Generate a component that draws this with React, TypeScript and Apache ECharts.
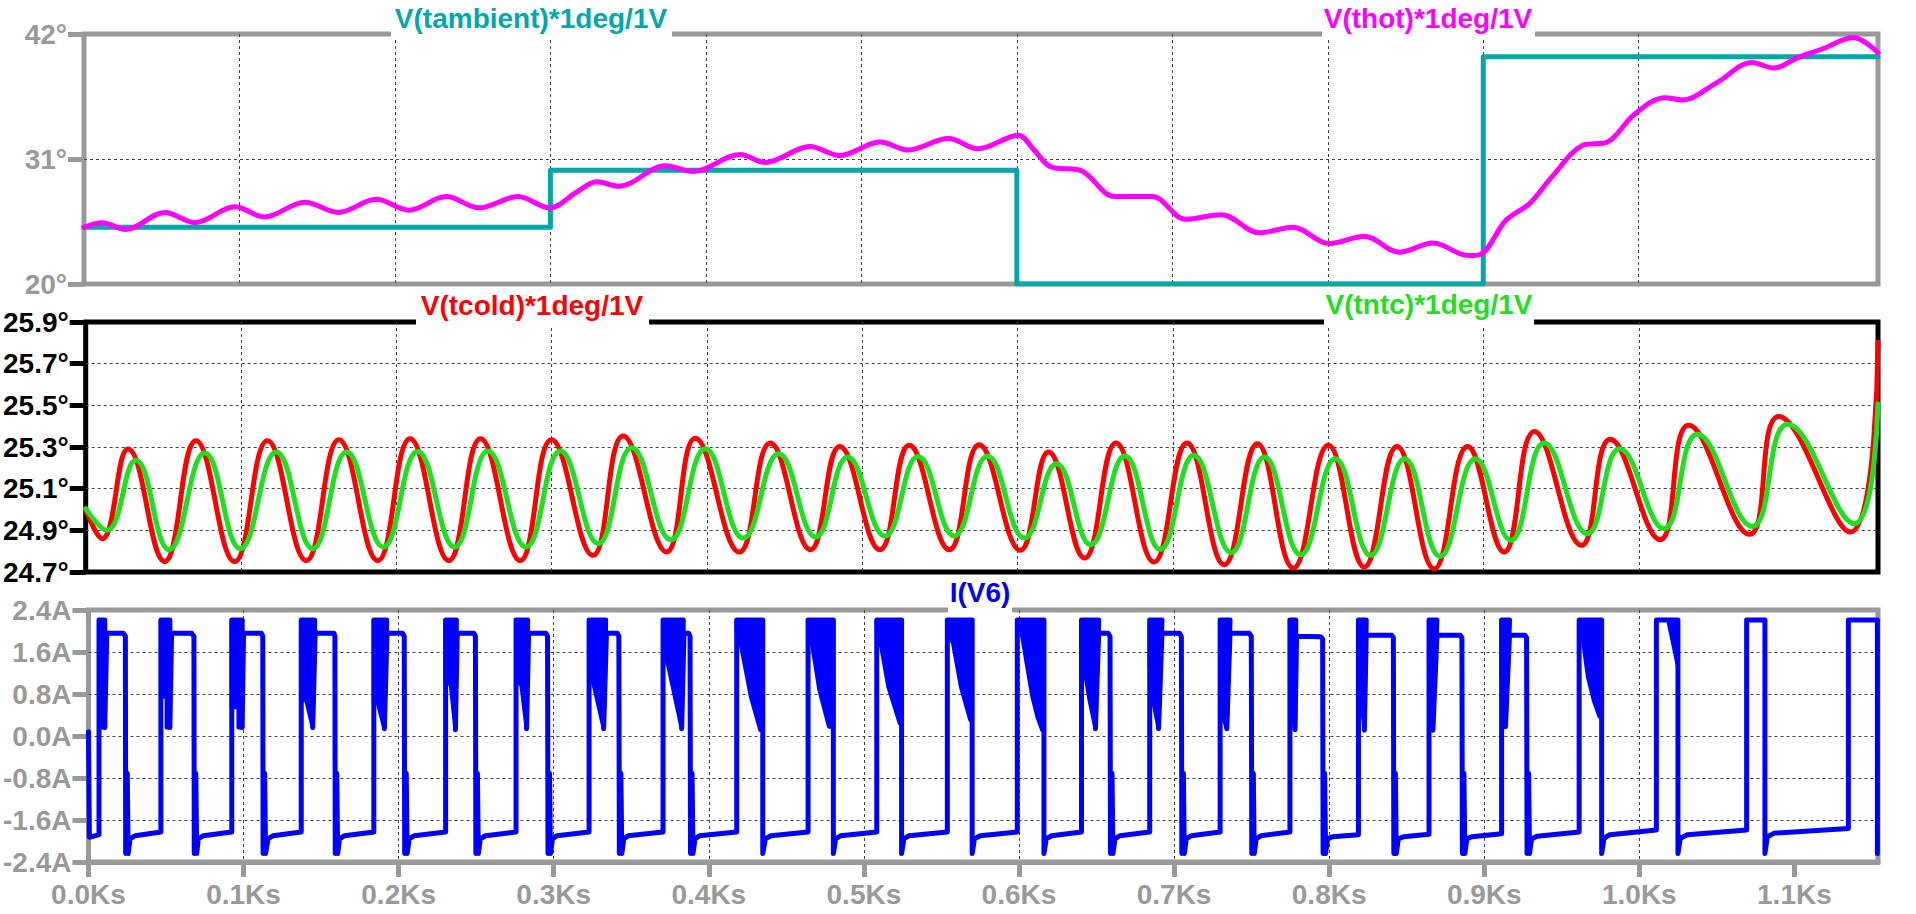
import React, { useEffect, useRef } from 'react';
import * as echarts from 'echarts';

// ---- axis ticks ----
const timeTicks = [0, 0.1, 0.2, 0.3, 0.4, 0.5, 0.6, 0.7, 0.8, 0.9, 1.0, 1.1];
const timeMax = 1.1539;
const hotTicks = [20, 31, 42];
const coldTicks = [24.7, 24.9, 25.1, 25.3, 25.5, 25.7, 25.9];
const currentTicks = [-2.4, -1.6, -0.8, 0, 0.8, 1.6, 2.4];

// ---- panel 1: V(tambient), V(thot)  [Ks, deg] ----
const tAmbient = [[0, 25], [0.3, 25], [0.3, 30], [0.6, 30], [0.6, 20], [0.9, 20], [0.9, 40], [1.1539, 40]];
const tHot = [
  [0, 25.0], [0.0115, 25.4], [0.027, 24.8], [0.052, 26.3], [0.0715, 25.4], [0.097, 26.8], [0.116, 25.9],
  [0.142, 27.2], [0.1635, 26.3], [0.188, 27.45], [0.209, 26.5], [0.233, 27.7], [0.254, 26.7], [0.279, 27.7],
  [0.2995, 26.7], [0.317, 28.1], [0.3297, 29.0], [0.344, 28.6], [0.374, 30.4], [0.392, 29.9], [0.422, 31.4],
  [0.438, 30.7], [0.467, 32.1], [0.486, 31.3], [0.512, 32.5], [0.53, 31.8], [0.556, 32.8], [0.575, 31.9],
  [0.601, 33.1], [0.611, 31.8], [0.622, 30.3], [0.641, 30.0], [0.663, 27.7], [0.687, 27.7], [0.7086, 25.7],
  [0.7315, 26.1], [0.756, 24.5], [0.7775, 25.0], [0.801, 23.55], [0.8235, 24.2], [0.846, 22.8], [0.8677, 23.6],
  [0.8905, 22.5], [0.898, 22.6], [0.9146, 25.6], [0.93, 27.1], [0.944, 29.4], [0.964, 32.2], [0.98, 32.5],
  [0.997, 34.9], [1.017, 36.4], [1.028, 36.2], [1.05, 37.7], [1.073, 39.5], [1.087, 39.0], [1.102, 39.9],
  [1.1185, 40.7], [1.138, 41.7], [1.1539, 40.35],
];

// ---- panel 2: V(tcold), V(tntc) ----
const tCold = [
  [0, 25.0], [0.0106, 24.86], [0.0273, 25.29], [0.0508, 24.75], [0.071, 25.33], [0.0959, 24.75], [0.117, 25.33],
  [0.142, 24.755], [0.163, 25.335], [0.188, 24.755], [0.2088, 25.34], [0.2338, 24.755], [0.2542, 25.34],
  [0.2798, 24.755], [0.2999, 25.335], [0.3265, 24.78], [0.346, 25.353], [0.374, 24.796], [0.3925, 25.342],
  [0.4208, 24.796], [0.4407, 25.319], [0.4666, 24.807], [0.4855, 25.303], [0.5113, 24.807], [0.5302, 25.308],
  [0.556, 24.807], [0.5752, 25.311], [0.6017, 24.804], [0.6199, 25.276], [0.6431, 24.767], [0.6633, 25.319],
  [0.6878, 24.748], [0.709, 25.319], [0.733, 24.735], [0.7543, 25.316], [0.7775, 24.719], [0.8, 25.308],
  [0.8232, 24.724], [0.8442, 25.303], [0.8682, 24.716], [0.8897, 25.303], [0.9132, 24.796], [0.9327, 25.375],
  [0.963, 24.828], [0.9815, 25.337], [1.0136, 24.855], [1.032, 25.404], [1.0712, 24.881], [1.09, 25.447],
  [1.136, 24.892], [1.1539, 25.804],
];
const tNtc = [
  [0, 25.004], [0.0135, 24.9], [0.0322, 25.236], [0.0537, 24.807], [0.0767, 25.271], [0.0996, 24.812],
  [0.1227, 25.276], [0.1462, 24.812], [0.168, 25.276], [0.1916, 24.82], [0.2137, 25.279], [0.2375, 24.82],
  [0.259, 25.281], [0.2835, 24.82], [0.3056, 25.281], [0.33, 24.836], [0.3516, 25.297], [0.3768, 24.855],
  [0.3989, 25.292], [0.4234, 24.863], [0.4462, 25.268], [0.47, 24.868], [0.4906, 25.252], [0.5146, 24.873],
  [0.5359, 25.255], [0.5592, 24.873], [0.5806, 25.257], [0.6044, 24.863], [0.625, 25.22], [0.647, 24.831],
  [0.669, 25.257], [0.6918, 24.809], [0.7134, 25.26], [0.7375, 24.793], [0.7589, 25.252], [0.7822, 24.783],
  [0.8045, 25.244], [0.8272, 24.78], [0.8492, 25.244], [0.872, 24.775], [0.8948, 25.244], [0.9175, 24.852],
  [0.939, 25.319], [0.9668, 24.884], [0.9876, 25.292], [1.0161, 24.908], [1.0376, 25.361], [1.073, 24.919],
  [1.0957, 25.409], [1.1387, 24.932], [1.1539, 25.508],
];

// ---- panel 3: I(V6) [Ks, A] ----
const iV6 = [
  [0, 0.08], [0.0006, -1.93], [0.0068, -1.88],
  [0.0068, 2.21], [0.0105, 2.21], [0.0105, 0.16], [0.0118, 1.955], [0.0225, 1.955], [0.0238, 1.9], [0.024, -2.24], [0.025, -0.71], [0.0256, -2.24], [0.0268, -1.96], [0.03, -1.9], [0.0467, -1.83],
  [0.0467, 2.21], [0.0525, 2.21], [0.0525, 0.16], [0.0536, 1.955], [0.0665, 1.955], [0.068, 1.9], [0.0682, -2.24], [0.0692, -0.71], [0.0698, -2.24], [0.0708, -1.96], [0.074, -1.9], [0.0924, -1.83],
  [0.0924, 2.21], [0.0991, 2.21], [0.0991, 0.16], [0.1, 1.955], [0.1115, 1.955], [0.1124, 1.9], [0.1126, -2.24], [0.1136, -0.71], [0.1142, -2.24], [0.1158, -1.96], [0.119, -1.9], [0.1372, -1.83],
  [0.1372, 2.21], [0.1455, 2.21], [0.1446, 0.16], [0.1462, 2.0], [0.1469, 1.955], [0.1583, 1.955], [0.1589, 1.9], [0.1591, -2.24], [0.1601, -0.71], [0.1607, -2.24], [0.1619, -1.96], [0.165, -1.9], [0.184, -1.83],
  [0.184, 2.21], [0.1923, 2.21], [0.1908, 0.14], [0.1925, 1.955], [0.2025, 1.955], [0.2036, 1.9], [0.2039, -2.24], [0.2049, -0.71], [0.2055, -2.24], [0.2068, -1.96], [0.21, -1.9], [0.2303, -1.83],
  [0.2303, 2.21], [0.2372, 2.21], [0.2366, 0.12], [0.2378, 1.955], [0.2485, 1.955], [0.2495, 1.9], [0.2498, -2.24], [0.2508, -0.71], [0.2514, -2.24], [0.2527, -1.96], [0.256, -1.9], [0.2757, -1.83],
  [0.2757, 2.21], [0.2832, 2.21], [0.2825, 0.14], [0.2838, 1.955], [0.295, 1.955], [0.296, 1.9], [0.2963, -2.24], [0.2973, -0.71], [0.2979, -2.24], [0.2992, -1.96], [0.302, -1.9], [0.3228, -1.83],
  [0.3228, 2.21], [0.3335, 2.21], [0.3322, 0.14], [0.334, 1.955], [0.341, 1.955], [0.342, 1.9], [0.3423, -2.24], [0.3433, -0.71], [0.3439, -2.24], [0.3452, -1.96], [0.348, -1.9], [0.3705, -1.83],
  [0.3705, 2.21], [0.3835, 2.21], [0.3825, 0.14], [0.384, 1.955], [0.387, 1.955], [0.3879, 1.9], [0.3882, -2.24], [0.3892, -0.71], [0.3898, -2.24], [0.3911, -1.96], [0.394, -1.9], [0.418, -1.83],
  [0.418, 2.21], [0.4348, 2.21], [0.4348, -2.24], [0.4365, -1.96], [0.44, -1.9], [0.464, -1.83],
  [0.464, 2.21], [0.4803, 2.21], [0.4803, -2.24], [0.4818, -1.96], [0.485, -1.9], [0.5083, -1.83],
  [0.5083, 2.21], [0.5243, 2.21], [0.5243, -2.24], [0.5258, -1.96], [0.529, -1.9], [0.5538, -1.83],
  [0.5538, 2.21], [0.5698, 2.21], [0.5698, -2.24], [0.5713, -1.96], [0.575, -1.9], [0.5989, -1.83],
  [0.5989, 2.21], [0.6161, 2.21], [0.6161, -2.24], [0.6176, -1.96], [0.621, -1.9], [0.6403, -1.83],
  [0.6403, 2.21], [0.6514, 2.21], [0.6493, 0.14], [0.6514, 1.955], [0.6575, 1.955], [0.6587, 1.9], [0.659, -2.24], [0.66, -0.71], [0.6606, -2.24], [0.6619, -1.96], [0.665, -1.9], [0.6843, -1.83],
  [0.6843, 2.21], [0.6922, 2.21], [0.69, 0.14], [0.6922, 1.955], [0.7035, 1.955], [0.7047, 1.9], [0.705, -2.24], [0.706, -0.71], [0.7066, -2.24], [0.7079, -1.96], [0.711, -1.9], [0.7297, -1.83],
  [0.7297, 2.21], [0.7361, 2.21], [0.734, 0.14], [0.7361, 1.955], [0.7485, 1.955], [0.7498, 1.9], [0.7501, -2.24], [0.7511, -0.71], [0.7517, -2.24], [0.753, -1.96], [0.756, -1.9], [0.7747, -1.83],
  [0.7747, 2.21], [0.7785, 2.21], [0.778, 0.12], [0.779, 1.9], [0.7945, 1.89], [0.7958, 1.85], [0.7961, -2.24], [0.7971, -0.71], [0.7977, -2.24], [0.799, -1.96], [0.802, -1.92], [0.8189, -1.88],
  [0.8189, 2.21], [0.8239, 2.21], [0.8227, 0.11], [0.8239, 1.92], [0.8404, 1.92], [0.8414, 1.87], [0.8417, -2.24], [0.8427, -0.71], [0.8433, -2.24], [0.8446, -1.96], [0.848, -1.92], [0.8644, -1.87],
  [0.8644, 2.21], [0.8695, 2.21], [0.8669, 0.11], [0.8695, 1.92], [0.8846, 1.92], [0.8856, 1.87], [0.8859, -2.24], [0.8869, -0.71], [0.8875, -2.24], [0.8888, -1.96], [0.892, -1.92], [0.9112, -1.86],
  [0.9112, 2.21], [0.9163, 2.21], [0.9137, 0.18], [0.9163, 1.92], [0.9263, 1.92], [0.9273, 1.87], [0.9276, -2.24], [0.9286, -0.71], [0.9292, -2.24], [0.9305, -1.96], [0.934, -1.91], [0.9612, -1.83],
  [0.9612, 2.21], [0.9757, 2.21], [0.9757, -2.24], [0.9772, -1.95], [0.981, -1.88], [1.011, -1.79],
  [1.011, 2.21], [1.0249, 2.21], [1.0249, -2.24], [1.0264, -1.95], [1.031, -1.88], [1.0692, -1.79],
  [1.0692, 2.21], [1.081, 2.21], [1.081, -2.24], [1.0825, -1.92], [1.087, -1.85], [1.1348, -1.76],
  [1.1348, 2.21], [1.1535, 2.21], [1.1535, -2.24],
];
// dense switching bursts of I(V6): outline of each filled region
const iV6Bursts = [
  [[0.0068, 2.21], [0.0105, 2.21], [0.0105, 0.16], [0.0078, 0.16], [0.0068, 1.0]],
  [[0.0467, 2.21], [0.0525, 2.21], [0.0525, 0.16], [0.0504, 0.16], [0.0504, 0.75], [0.0467, 0.75]],
  [[0.0924, 2.21], [0.0991, 2.21], [0.0991, 0.16], [0.0967, 0.16], [0.0967, 0.55], [0.0924, 0.55]],
  [[0.1372, 2.21], [0.1462, 2.21], [0.1446, 0.16], [0.1404, 0.68], [0.1372, 0.68]],
  [[0.184, 2.21], [0.1923, 2.21], [0.1908, 0.14], [0.1866, 0.62], [0.184, 0.62]],
  [[0.2303, 2.21], [0.2372, 2.21], [0.2366, 0.12], [0.2335, 1.0], [0.2303, 1.0]],
  [[0.2757, 2.21], [0.2832, 2.21], [0.2825, 0.14], [0.279, 1.0], [0.2757, 1.0]],
  [[0.3228, 2.21], [0.3335, 2.21], [0.3322, 0.14], [0.325, 1.07], [0.3228, 1.2]],
  [[0.3705, 2.21], [0.3835, 2.21], [0.3825, 0.14], [0.3735, 1.38], [0.3705, 1.6]],
  [[0.418, 2.21], [0.4348, 2.21], [0.4348, 0.11], [0.4332, 0.11], [0.4271, 0.75], [0.4209, 1.7], [0.418, 2.0]],
  [[0.464, 2.21], [0.4803, 2.21], [0.4803, 0.175], [0.4775, 0.175], [0.4713, 0.87], [0.4665, 1.76], [0.464, 2.0]],
  [[0.5083, 2.21], [0.5243, 2.21], [0.5243, 0.24], [0.5231, 0.24], [0.5157, 0.94], [0.5108, 1.76], [0.5083, 2.0]],
  [[0.5538, 2.21], [0.5698, 2.21], [0.5698, 0.3], [0.5686, 0.3], [0.5625, 0.94], [0.5575, 1.76], [0.5538, 2.0]],
  [[0.5989, 2.21], [0.6161, 2.21], [0.6161, 0.11], [0.615, 0.11], [0.6118, 0.37], [0.6086, 0.75], [0.6053, 1.32], [0.601, 2.08]],
  [[0.6403, 2.21], [0.6514, 2.21], [0.6493, 0.14], [0.6455, 0.68], [0.6418, 1.32], [0.6403, 1.6]],
  [[0.6843, 2.21], [0.6922, 2.21], [0.69, 0.14], [0.6868, 0.62], [0.6855, 1.32], [0.6843, 1.32]],
  [[0.7297, 2.21], [0.7361, 2.21], [0.734, 0.14], [0.7308, 0.43], [0.7297, 0.8]],
  [[0.7747, 2.21], [0.7785, 2.21], [0.778, 0.12], [0.7758, 0.6], [0.7747, 1.0]],
  [[0.8189, 2.21], [0.8239, 2.21], [0.8227, 0.11], [0.8205, 0.8], [0.8189, 1.2]],
  [[0.8644, 2.21], [0.8695, 2.21], [0.8669, 0.11], [0.8655, 0.8], [0.8644, 1.2]],
  [[0.9112, 2.21], [0.9163, 2.21], [0.9137, 0.18], [0.9122, 0.8], [0.9112, 1.2]],
  [[0.9612, 2.21], [0.9757, 2.21], [0.9757, 0.37], [0.9743, 0.37], [0.9706, 0.68], [0.9668, 1.13], [0.9642, 1.7], [0.9625, 2.1]],
  [[1.0186, 2.21], [1.0249, 2.21], [1.0249, 1.32]],
];

const GRAY = '#999999';
const GRID_LINE = '#444444';
const FONT = '"Liberation Sans", Arial, sans-serif';
const C_AMB = '#00A8A8';
const C_HOT = '#FF00FF';
const C_COLD = '#FF0000';
const C_NTC = '#1FE01F';
const C_I = '#0000FF';

const labelStyle = (color: string) => ({ color, fontSize: 28, fontWeight: 'bold' as const, fontFamily: FONT });
const splitLine = { show: true, showMinLine: false, showMaxLine: false, lineStyle: { color: GRID_LINE, width: 1, type: [3, 3] } };

function makeTitle(text: string, color: string, cx: number, cy: number, rx: number, ry: number, rw: number, rh: number) {
  return [
    { type: 'rect', z: 100, shape: { x: rx, y: ry, width: rw, height: rh }, style: { fill: '#ffffff' } },
    {
      type: 'text', z: 101, x: cx, y: cy,
      style: { text, fill: color, font: `bold 28px ${FONT}`, textAlign: 'center', textVerticalAlign: 'middle', align: 'center', verticalAlign: 'middle' },
    },
  ];
}

export default function App() {
  const ref = useRef<HTMLDivElement>(null);
  useEffect(() => {
    if (!ref.current) return;
    const chart = echarts.init(ref.current, undefined, { renderer: 'svg' });
    const xAxis = [0, 1, 2].map((i) => ({
      gridIndex: i, type: 'value', min: 0, max: timeMax, interval: 0.1, position: 'bottom',
      axisLine: { show: i === 2, onZero: false, lineStyle: { color: GRAY, width: 5 } },
      axisTick: { show: i === 2, length: 15, inside: false, customValues: timeTicks, lineStyle: { color: GRAY, width: 5 } },
      axisLabel: {
        show: i === 2, customValues: timeTicks, margin: 18, ...labelStyle(GRAY),
        formatter: (v: number) => `${v.toFixed(1)}Ks`,
      },
      splitLine,
    }));
    const yTick = (color: string) => ({ show: true, length: 16, inside: false, lineStyle: { color, width: 5 } });
    const yAxis = [
      {
        gridIndex: 0, type: 'value', min: hotTicks[0], max: hotTicks[hotTicks.length - 1], interval: 11,
        axisLine: { show: false, onZero: false }, axisTick: { ...yTick(GRAY), customValues: hotTicks },
        axisLabel: { customValues: hotTicks, margin: 17, ...labelStyle(GRAY), formatter: (v: number) => `${Math.round(v)}°` },
        splitLine,
      },
      {
        gridIndex: 1, type: 'value', min: coldTicks[0], max: coldTicks[coldTicks.length - 1], interval: 0.2,
        axisLine: { show: false, onZero: false }, axisTick: { ...yTick('#000'), customValues: coldTicks },
        axisLabel: { customValues: coldTicks, margin: 17, ...labelStyle('#000'), formatter: (v: number) => `${v.toFixed(1)}°` },
        splitLine,
      },
      {
        gridIndex: 2, type: 'value', min: currentTicks[0], max: currentTicks[currentTicks.length - 1], interval: 0.8,
        axisLine: { show: false, onZero: false }, axisTick: { ...yTick(GRAY), customValues: currentTicks },
        axisLabel: { customValues: currentTicks, margin: 17, ...labelStyle(GRAY), formatter: (v: number) => `${v.toFixed(1)}A` },
        splitLine,
      },
    ];
    const lineSeries = (data: number[][], color: string, idx: number, smooth: number | boolean, z: number) => ({
      type: 'line', data, xAxisIndex: idx, yAxisIndex: idx, showSymbol: false, symbol: 'none', smooth,
      lineStyle: { color, width: 5, join: 'round', cap: 'round' }, itemStyle: { color }, z, silent: true,
    });
    const option: any = {
      animation: false,
      backgroundColor: '#ffffff',
      grid: [
        { left: 84, right: 38, top: 34, height: 250, show: true, borderColor: GRAY, borderWidth: 5, backgroundColor: 'transparent' },
        { left: 84, right: 38, top: 322, height: 250, show: true, borderColor: '#000000', borderWidth: 5, backgroundColor: 'transparent' },
        { left: 84, right: 38, top: 610, height: 252, show: true, borderColor: GRAY, borderWidth: 5, backgroundColor: 'transparent' },
      ],
      xAxis,
      yAxis,
      series: [
        lineSeries(tAmbient, C_AMB, 0, false, 3),
        lineSeries(tHot, C_HOT, 0, 0.35, 4),
        lineSeries(tCold, C_COLD, 1, 0.45, 3),
        lineSeries(tNtc, C_NTC, 1, 0.45, 4),
        lineSeries(iV6, C_I, 2, false, 3),
        {
          type: 'custom', xAxisIndex: 2, yAxisIndex: 2, clip: true, silent: true, z: 4,
          data: iV6Bursts.map((b, i) => [b[0][0], b[0][1], i]),
          encode: { x: 0, y: 1 },
          renderItem: (params: any, api: any) => {
            const poly = iV6Bursts[params.dataIndex];
            return {
              type: 'polygon',
              shape: { points: poly.map((p) => api.coord(p)) },
              style: { fill: C_I, stroke: C_I, lineWidth: 4, lineJoin: 'round' },
            };
          },
        },
      ],
      graphic: [
        ...makeTitle('V(tambient)*1deg/1V', C_AMB, 531, 18, 391, 0, 281, 37),
        ...makeTitle('V(thot)*1deg/1V', C_HOT, 1428, 18, 1322, 0, 213, 37),
        ...makeTitle('V(tcold)*1deg/1V', C_COLD, 532, 305, 416, 288, 233, 37),
        ...makeTitle('V(tntc)*1deg/1V', C_NTC, 1429, 304, 1324, 288, 210, 37),
        ...makeTitle('I(V6)', C_I, 980, 592, 948, 576, 64, 37),
      ],
    };
    chart.setOption(option);
    return () => chart.dispose();
  }, []);
  return (
    <div
      ref={ref}
      style={{ position: 'fixed', left: 0, top: 0, width: 1916, height: 914, background: '#fff' }}
    />
  );
}
